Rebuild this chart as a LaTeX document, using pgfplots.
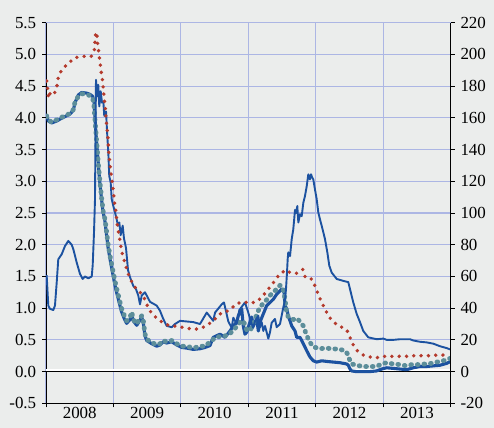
\documentclass[border=0pt]{standalone}
\usepackage{pgfplots}
\pgfplotsset{compat=1.18}
\usepackage{fontspec}
\setmainfont{Liberation Serif}
\definecolor{bg}{RGB}{235,237,236}
\definecolor{gridc}{RGB}{172,182,228}
\definecolor{navy}{RGB}{28,82,160}
\definecolor{tealc}{RGB}{92,142,154}
\definecolor{brick}{RGB}{180,58,44}

\begin{document}
\fontsize{17}{20}\selectfont
\begin{tikzpicture}
\fill[bg] (0,0) rectangle (494bp,428bp);
\useasboundingbox (0,0) rectangle (494bp,428bp);

% left axis: rates in per cent
\begin{axis}[
    at={(46bp,24.7bp)}, anchor=south west,
    scale only axis, width=404.7bp, height=380.6bp,
    xmin=2008, xmax=2014, ymin=-0.5, ymax=5.5,
    axis x line*=bottom, axis y line*=left,
    axis line style={black, line width=0.9bp},
    xtick={2008,2009,2010,2011,2012,2013,2014},
    xticklabels={2008,2009,2010,2011,2012,2013},
    x tick label as interval,
    xticklabel style={inner sep=1bp, yshift=1bp},
    ytick={-0.5,0,0.5,1,1.5,2,2.5,3,3.5,4,4.5,5,5.5},
    /pgf/number format/.cd, fixed, fixed zerofill, precision=1, assume math mode=true,
    /pgfplots/.cd,
    tick label style={font=\fontsize{17}{20}\selectfont, black},
    tick style={black, line width=0.8bp}, tick align=outside, major tick length=4bp,
    grid=major, major grid style={gridc, line width=1.1bp},
]
\addplot[white, line width=2bp, forget plot] coordinates {(2008,0.024) (2014,0.024)};
\addplot[black, line width=1bp, forget plot] coordinates {(2008,0) (2014,0)};

% thick blue
\addplot[navy, line width=3.1bp, line join=round] coordinates {
(2008.010,4.05) (2008.034,3.95) (2008.085,3.92) (2008.159,3.95) (2008.208,3.98)
(2008.282,4.02) (2008.356,4.06) (2008.405,4.12) (2008.430,4.24) (2008.479,4.36)
(2008.529,4.40) (2008.603,4.39) (2008.652,4.37) (2008.692,4.34) (2008.712,4.25)
(2008.726,4.00) (2008.741,3.75) (2008.770,3.35) (2008.796,3.00) (2008.820,2.75)
(2008.845,2.52) (2008.870,2.40) (2008.895,2.18) (2008.920,1.96) (2008.955,1.74)
(2008.994,1.52) (2009.034,1.30) (2009.083,1.10) (2009.118,0.95) (2009.166,0.82)
(2009.196,0.76) (2009.245,0.82) (2009.271,0.90) (2009.294,0.80) (2009.345,0.73)
(2009.370,0.77) (2009.419,0.86) (2009.443,0.76) (2009.468,0.56) (2009.493,0.49)
(2009.567,0.44) (2009.641,0.40) (2009.690,0.42) (2009.739,0.47) (2009.789,0.45)
(2009.864,0.47) (2009.938,0.42) (2010.012,0.38) (2010.086,0.37) (2010.184,0.35)
(2010.283,0.36) (2010.357,0.38) (2010.431,0.41) (2010.480,0.54) (2010.580,0.59)
(2010.654,0.54) (2010.728,0.64) (2010.777,0.72) (2010.827,0.78) (2010.851,0.88)
(2010.901,0.99) (2010.925,0.72) (2010.950,0.59) (2010.976,0.62) (2011.024,0.78)
(2011.050,0.86) (2011.073,0.72) (2011.124,0.83) (2011.148,0.64) (2011.173,0.78)
(2011.222,0.91) (2011.272,1.04) (2011.321,1.09) (2011.370,1.14) (2011.420,1.22)
(2011.494,1.30) (2011.529,1.25) (2011.543,1.04) (2011.569,0.99) (2011.592,0.88)
(2011.643,0.72) (2011.692,0.64) (2011.717,0.54) (2011.766,0.54) (2011.815,0.44)
(2011.865,0.33) (2011.914,0.23) (2011.963,0.17) (2012.013,0.15) (2012.087,0.17)
(2012.162,0.16) (2012.259,0.15) (2012.359,0.14) (2012.458,0.12) (2012.482,0.10)
(2012.507,0.04) (2012.532,0.01) (2012.600,0.00) (2012.704,0.00) (2012.803,0.00)
(2012.900,0.01) (2012.977,0.04) (2013.051,0.06) (2013.150,0.05) (2013.248,0.04)
(2013.347,0.03) (2013.446,0.06) (2013.545,0.08) (2013.644,0.08) (2013.742,0.09)
(2013.841,0.10) (2013.941,0.13) (2014.000,0.16)
};

% teal
\addplot[tealc, line width=4.8bp, line cap=round, line join=round, dash pattern=on 0.8bp off 5.8bp] coordinates {
(2008.010,4.03) (2008.034,3.97) (2008.085,3.93) (2008.159,3.97) (2008.208,4.00)
(2008.282,4.03) (2008.356,4.07) (2008.405,4.13) (2008.430,4.25) (2008.479,4.34)
(2008.529,4.38) (2008.603,4.37) (2008.652,4.35) (2008.692,4.31) (2008.712,4.18)
(2008.726,3.97) (2008.752,3.61) (2008.775,3.29) (2008.801,2.98) (2008.826,2.72)
(2008.850,2.51) (2008.875,2.40) (2008.900,2.19) (2008.924,1.98) (2008.959,1.77)
(2008.998,1.56) (2009.038,1.35) (2009.087,1.14) (2009.122,0.99) (2009.171,0.86)
(2009.196,0.80) (2009.245,0.85) (2009.271,0.94) (2009.294,0.82) (2009.345,0.75)
(2009.370,0.80) (2009.419,0.88) (2009.443,0.80) (2009.468,0.59) (2009.493,0.51)
(2009.567,0.46) (2009.641,0.42) (2009.690,0.44) (2009.739,0.49) (2009.789,0.47)
(2009.864,0.49) (2009.938,0.44) (2010.012,0.40) (2010.086,0.40) (2010.184,0.37)
(2010.283,0.40) (2010.357,0.40) (2010.457,0.49) (2010.531,0.55) (2010.630,0.55)
(2010.728,0.60) (2010.802,0.68) (2010.876,0.78) (2010.925,0.80) (2010.976,0.66)
(2011.024,0.64) (2011.073,0.75) (2011.124,0.90) (2011.173,1.02) (2011.247,1.10)
(2011.321,1.20) (2011.370,1.25) (2011.420,1.30) (2011.469,1.36) (2011.510,1.33)
(2011.543,1.15) (2011.569,0.92) (2011.592,0.86) (2011.666,0.82) (2011.717,0.84)
(2011.766,0.79) (2011.815,0.72) (2011.865,0.57) (2011.914,0.46) (2011.963,0.39)
(2012.062,0.36) (2012.136,0.37) (2012.259,0.36) (2012.358,0.35) (2012.430,0.33)
(2012.470,0.28) (2012.507,0.17) (2012.532,0.12) (2012.600,0.10) (2012.704,0.08)
(2012.803,0.08) (2012.900,0.08) (2012.977,0.12) (2013.051,0.14) (2013.150,0.12)
(2013.248,0.11) (2013.347,0.09) (2013.421,0.11) (2013.520,0.11) (2013.620,0.12)
(2013.720,0.13) (2013.793,0.15) (2013.890,0.17) (2013.965,0.20) (2014.000,0.21)
};

% thin blue (spread, right scale / 40)
\addplot[navy, line width=1.9bp, line join=round] coordinates {
(2008.010,1.52) (2008.034,1.04) (2008.059,0.99) (2008.108,0.97) (2008.133,1.04)
(2008.159,1.41) (2008.182,1.77) (2008.233,1.85) (2008.282,1.98) (2008.331,2.06)
(2008.381,2.00) (2008.405,1.93) (2008.455,1.72) (2008.504,1.54) (2008.544,1.46)
(2008.578,1.50) (2008.627,1.47) (2008.678,1.50) (2008.692,1.67) (2008.712,2.20)
(2008.726,2.70) (2008.741,4.60) (2008.761,4.34) (2008.775,4.52) (2008.790,4.18)
(2008.811,4.42) (2008.830,4.24) (2008.850,4.26) (2008.864,4.03) (2008.890,4.10)
(2008.909,3.71) (2008.924,3.45) (2008.938,3.08) (2008.959,2.98) (2008.974,2.72)
(2008.998,2.61) (2009.023,2.51) (2009.048,2.40) (2009.067,2.30) (2009.087,2.35)
(2009.107,2.15) (2009.137,2.30) (2009.156,2.10) (2009.186,1.95) (2009.216,1.60)
(2009.245,1.49) (2009.294,1.35) (2009.334,1.30) (2009.368,1.20) (2009.394,1.06)
(2009.419,1.20) (2009.468,1.25) (2009.542,1.10) (2009.641,1.04) (2009.690,0.96)
(2009.739,0.83) (2009.789,0.72) (2009.864,0.70) (2009.913,0.75) (2009.987,0.80)
(2010.086,0.79) (2010.184,0.78) (2010.283,0.75) (2010.383,0.93) (2010.480,0.80)
(2010.506,0.93) (2010.605,1.06) (2010.639,1.09) (2010.703,0.79) (2010.753,0.69)
(2010.777,0.85) (2010.827,0.75) (2010.866,0.97) (2010.950,1.09) (2010.999,0.93)
(2011.050,0.75) (2011.073,0.69) (2011.100,0.80) (2011.148,0.88) (2011.173,0.70)
(2011.198,0.78) (2011.222,0.64) (2011.247,0.72) (2011.296,0.52) (2011.321,0.62)
(2011.346,0.77) (2011.395,0.83) (2011.420,0.70) (2011.469,0.75) (2011.494,0.88)
(2011.518,1.01) (2011.543,1.12) (2011.558,1.30) (2011.573,1.56) (2011.583,1.77)
(2011.592,1.88) (2011.618,1.82) (2011.643,2.09) (2011.666,2.24) (2011.692,2.55)
(2011.707,2.50) (2011.726,2.61) (2011.741,2.35) (2011.766,2.48) (2011.791,2.45)
(2011.815,2.66) (2011.840,2.77) (2011.865,2.92) (2011.889,3.11) (2011.914,3.03)
(2011.929,3.11) (2011.946,3.06) (2011.963,3.03) (2011.988,2.87) (2012.013,2.72)
(2012.037,2.51) (2012.062,2.40) (2012.087,2.30) (2012.136,2.09) (2012.171,1.88)
(2012.200,1.67) (2012.236,1.56) (2012.310,1.46) (2012.408,1.43) (2012.482,1.41)
(2012.507,1.30) (2012.556,1.09) (2012.606,0.91) (2012.655,0.78) (2012.704,0.64)
(2012.778,0.54) (2012.903,0.51) (2013.001,0.52) (2013.051,0.50) (2013.150,0.50)
(2013.248,0.51) (2013.397,0.51) (2013.446,0.49) (2013.545,0.47) (2013.644,0.46)
(2013.742,0.44) (2013.841,0.40) (2013.941,0.37) (2013.990,0.35)
};

% red dotted
\addplot[brick, line width=3.8bp, line cap=round, dash pattern=on 0bp off 7.3bp] coordinates {
(2008.010,4.58) (2008.025,4.45) (2008.040,4.31) (2008.060,4.38) (2008.110,4.35)
(2008.159,4.47) (2008.173,4.60) (2008.208,4.71) (2008.271,4.80) (2008.345,4.87)
(2008.405,4.93) (2008.474,4.96) (2008.559,4.97) (2008.672,4.97) (2008.716,5.07)
(2008.726,5.20) (2008.737,5.34) (2008.752,5.35) (2008.761,5.22) (2008.775,5.09)
(2008.790,4.97) (2008.805,4.84) (2008.820,4.71) (2008.840,4.58) (2008.850,4.45)
(2008.864,4.29) (2008.879,4.16) (2008.890,4.00) (2008.900,3.87) (2008.915,3.74)
(2008.924,3.58) (2008.934,3.42) (2008.949,3.27) (2008.964,3.12) (2008.983,2.98)
(2008.998,2.85) (2009.013,2.69) (2009.034,2.53) (2009.050,2.38) (2009.070,2.22)
(2009.100,2.05) (2009.120,1.90) (2009.156,1.77) (2009.190,1.64) (2009.226,1.52)
(2009.270,1.42) (2009.320,1.33) (2009.370,1.28) (2009.420,1.22) (2009.478,1.12)
(2009.517,0.99) (2009.591,0.89) (2009.665,0.82) (2009.739,0.77) (2009.813,0.73)
(2009.887,0.72) (2009.961,0.71) (2010.061,0.69) (2010.160,0.67) (2010.273,0.67)
(2010.372,0.72) (2010.480,0.80) (2010.580,0.91) (2010.654,0.93) (2010.753,1.00)
(2010.827,1.07) (2010.925,1.10) (2011.024,1.08) (2011.124,1.10) (2011.198,1.17)
(2011.296,1.30) (2011.346,1.36) (2011.420,1.48) (2011.494,1.56) (2011.569,1.60)
(2011.618,1.56) (2011.717,1.55) (2011.805,1.61) (2011.840,1.50) (2011.914,1.49)
(2011.973,1.39) (2012.013,1.28) (2012.062,1.15) (2012.111,1.04) (2012.162,0.93)
(2012.221,0.83) (2012.300,0.75) (2012.384,0.70) (2012.458,0.66) (2012.507,0.54)
(2012.556,0.42) (2012.615,0.33) (2012.704,0.26) (2012.803,0.23) (2012.927,0.22)
(2013.026,0.24) (2013.125,0.24) (2013.248,0.24) (2013.347,0.24) (2013.456,0.25)
(2013.570,0.25) (2013.683,0.25) (2013.793,0.26) (2013.890,0.26) (2013.979,0.30)
};
\end{axis}

% right axis: basis points
\begin{axis}[
    at={(46bp,24.7bp)}, anchor=south west,
    scale only axis, width=404.7bp, height=380.6bp,
    xmin=2008, xmax=2014, ymin=-20, ymax=220,
    axis x line=none, axis y line*=right,
    axis line style={black, line width=0.9bp},
    ytick={-20,0,20,40,60,80,100,120,140,160,180,200,220},
    /pgf/number format/assume math mode=true,
    tick label style={font=\fontsize{17}{20}\selectfont, black},
    tick style={black, line width=0.8bp}, tick align=outside, major tick length=4bp,
]
\addplot[draw=none] coordinates {(2008,0) (2014,0)};
\end{axis}
\end{tikzpicture}
\end{document}
